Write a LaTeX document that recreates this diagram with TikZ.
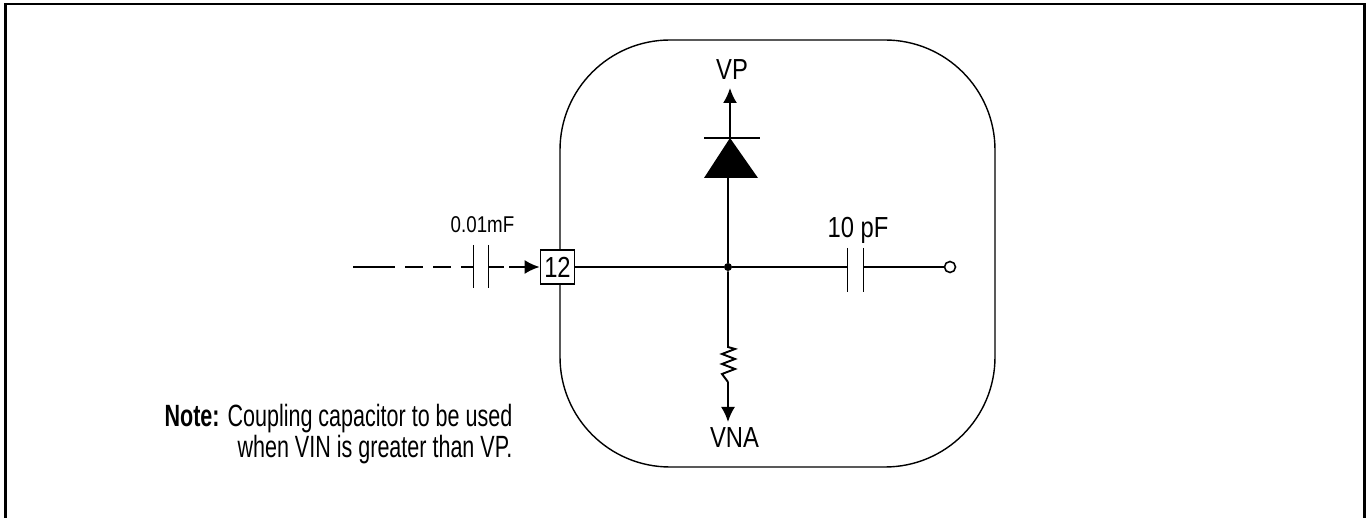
\documentclass[tikz,border=0pt]{standalone}
\usepackage{fontspec}
\setmainfont[FakeStretch=0.82]{Liberation Sans}
\newfontfamily\notefont[FakeStretch=0.7]{Liberation Sans}
\usetikzlibrary{arrows.meta,positioning}
\tikzstyle{wire}=[line width=1.1pt]
\tikzstyle{plate}=[line width=0.5pt]
\tikzstyle{lbl}=[inner sep=0pt,font=\fontsize{16.5}{18}\selectfont]
\begin{document}
\begin{tikzpicture}[>={Latex[length=0.3cm,width=0.28cm]}]
\useasboundingbox (0,0) rectangle (27.32,10.36);
\coordinate (fbl) at (0.11,0);
\coordinate (ftl) at (0.11,10.28);
\coordinate (ftr) at (27.29,10.28);
\coordinate (fbr) at (27.29,0);
\draw[line width=1.5pt] (fbl) -- (ftl) -- (ftr) -- (fbr);
\node (chip) at (15.55,5.29)[draw,line width=0.8pt,rounded corners=2.2cm,minimum width=8.7cm,minimum height=8.54cm] {};

\node (pin) at (11.15,5.02)[draw,fill=white,line width=1pt,minimum size=0.68cm,inner sep=0pt,font=\fontsize{16.5}{18}\selectfont] {12};
\node (jn) at (14.56,5.02)[circle,fill=black,inner sep=0pt,minimum size=0.16cm] {};
\node (vp) at (14.64,8.96)[lbl] {VP};
\node (vna) at (14.69,1.61)[lbl] {VNA};
\node (cin) at (9.65,5.87)[lbl,font=\fontsize{13}{14}\selectfont] {0.01mF};
\node (cout) at (17.16,5.75)[lbl] {10 pF};
\node (out) at (19.0,5.02)[circle,draw,line width=0.9pt,inner sep=0pt,minimum size=0.22cm] {};
\node (note) at (6.77,1.68)[inner sep=0pt,align=right,font=\notefont\fontsize{17.5}{14.8}\selectfont] {\textbf{Note:} Coupling capacitor to be used\\when VIN is greater than VP.};

% diode
\coordinate (dbase) at (14.56,6.8);
\coordinate (dtip) at (14.6,7.6);
\coordinate (vptip) at (14.6,8.6);
\draw[wire] (jn) -- (dbase);
\fill (14.08,6.8) -- (15.16,6.8) -- (dtip) -- cycle;
\draw[line width=1.3pt] (14.08,7.6) -- (15.2,7.6);
\draw[wire,->] (dtip) -- (vptip);

% resistor
\coordinate (rtop) at (14.56,3.42);
\coordinate (rbot) at (14.56,2.72);
\coordinate (vnatip) at (14.56,1.92);
\draw[wire] (jn) -- (rtop) -- ++(0.14,-0.04) -- ++(-0.26,-0.1) -- ++(0.26,-0.1) -- ++(-0.26,-0.1) -- ++(0.26,-0.1) -- ++(-0.26,-0.1) -- (rbot);
\draw[wire,->] (rbot) -- (vnatip);

% output capacitor
\coordinate (c1a) at (16.94,5.02);
\coordinate (c1b) at (17.26,5.02);
\draw[wire] (pin) -- (jn) -- (c1a);
\draw[plate] (16.94,5.4) -- (16.94,4.52);
\draw[plate] (17.26,5.4) -- (17.26,4.52);
\draw[line width=0.8pt] (c1b) -- (out);

% input capacitor
\coordinate (in) at (7.06,5.02);
\coordinate (c2a) at (9.46,5.02);
\coordinate (c2b) at (9.76,5.02);
\draw[wire] (in) -- (7.9,5.02);
\draw[wire,dash pattern=on 0.36cm off 0.2cm] (8.1,5.02) -- (c2a);
\draw[plate] (9.46,5.46) -- (9.46,4.6);
\draw[plate] (9.76,5.46) -- (9.76,4.6);
\draw[wire,dash pattern=on 0.32cm off 0.1cm,->] (c2b) -- (pin);
\end{tikzpicture}
\end{document}
